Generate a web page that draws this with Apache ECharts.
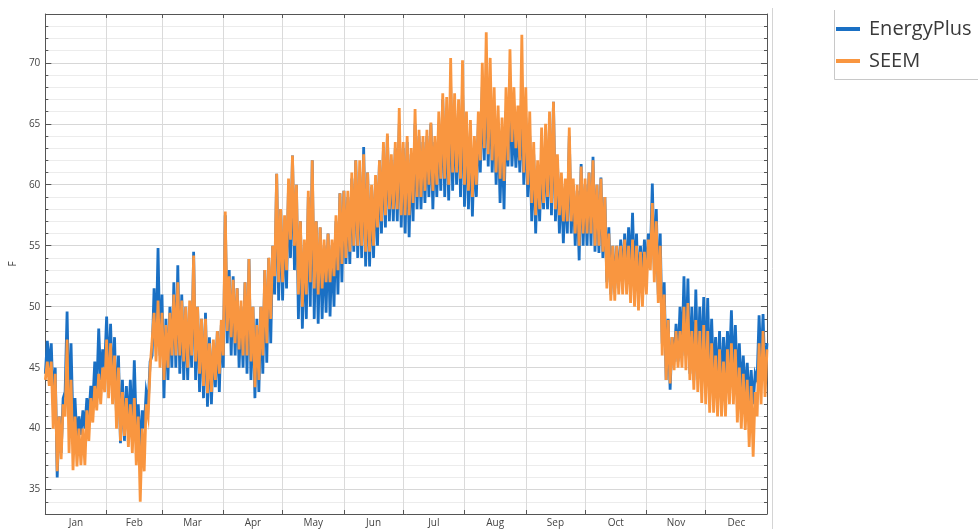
<!DOCTYPE html>
<html>
<head>
<meta charset="utf-8">
<script src="https://cdn.jsdelivr.net/npm/echarts@6/dist/echarts.min.js"></script>
<style>
html, body { margin: 0; padding: 0; background: #ffffff; }
#chart { width: 978px; height: 529px; }
</style>
</head>
<body>
<div id="chart"></div>
<script>
// Calendar used for the x axis
const monthNames = ['Jan', 'Feb', 'Mar', 'Apr', 'May', 'Jun', 'Jul', 'Aug', 'Sep', 'Oct', 'Nov', 'Dec'];
const monthDays = [31, 28, 31, 30, 31, 30, 31, 31, 30, 31, 30, 31];

// Temperature axis (F)
const yMin = 33;
const yMax = 74;
const yTickLabels = [35, 40, 45, 50, 55, 60, 65, 70];

// Daily low / high temperature, one pair every second day from Jan 1 (one line per month)
const energyPlusLow = [
  44.5, 45, 42, 36, 38, 43, 41, 40, 39, 39.5, 40, 41, 42, 43, 44, 45,
  44, 43, 41, 38.8, 39, 40, 39.5, 40, 38, 40, 42, 46, 47, 46,
  42.5, 44, 45, 45, 44.5, 44, 44, 45, 44, 43, 42.5, 41.8, 42, 43.4, 43,
  45, 47, 46, 46, 45, 45, 44.5, 44, 42.5, 43, 44.5, 45.4, 47, 51, 50.5,
  50.5, 51.5, 54, 53, 49, 48.2, 49, 50, 49, 48.6, 49, 49.5, 49.2, 50, 51, 52,
  53.5, 53.5, 54.5, 54, 54, 53.3, 53.3, 54, 55, 56, 56.5, 57, 57, 57, 56.5,
  56, 55.7, 57, 58, 58, 58.5, 59, 58, 59, 59.5, 59, 58.7, 59.5, 60, 59,
  58.2, 58, 57.4, 59, 61, 62, 61.5, 61, 60, 58.5, 58, 61.5, 61.5, 61.4, 61, 60,
  59, 57, 56, 57, 58, 58, 57.5, 57, 56, 55.2, 56, 56, 55, 53.8, 55,
  55, 55, 54.5, 54.4, 54, 52, 51, 51.5, 52, 52, 52.5, 53, 52, 51, 52,
  52.5, 54, 53, 51, 47, 44, 43.2, 45.5, 45.5, 46, 46, 44.5, 44, 44.5, 45,
  44, 44, 44, 43.5, 43, 44, 45, 44, 43.5, 43, 42.5, 42, 42, 44, 45, 44
];
const energyPlusHigh = [
  47.2, 47, 45, 41, 42.5, 49.6, 47, 42.5, 41, 41.5, 42.5, 43.5, 45.5, 48.2, 46.5, 49.2,
  48.6, 47.5, 46, 44, 43.5, 44, 45.6, 42, 41.5, 43, 45.5, 51.5, 54.8, 51,
  49, 50, 52, 53.4, 51, 50, 50, 54.5, 50, 49, 49.5, 47.5, 47, 48, 48.5,
  57.5, 53, 52.5, 51.5, 50, 52, 53.9, 50, 49, 50, 53, 54, 55, 60.9, 58,
  57, 60, 62.4, 60, 57, 55, 59, 62, 57, 56.5, 55, 56, 55, 57, 59.3, 59.5,
  59, 60.5, 62, 61, 63.1, 61, 59.8, 60.5, 62, 63, 64, 62, 63, 65, 63,
  63.5, 62.5, 65, 64, 63.5, 64, 65, 63.5, 65, 67, 66, 68, 66, 66, 68,
  65, 64, 63, 65, 68, 69, 68, 66, 65, 64, 66, 68, 65, 65, 67, 65.5,
  64, 62.5, 61.5, 62, 63, 65, 66.8, 62, 60.5, 60, 64, 60, 59.5, 61.7, 60,
  61, 62.3, 60, 60.6, 59, 56.5, 55, 55, 55.5, 56, 56.5, 57.7, 56, 55, 55.5,
  56, 60.1, 58, 56, 52, 49, 47.5, 48.6, 50, 52.5, 52.3, 50, 51.4, 50, 50.8,
  50.7, 49, 47.5, 48, 47.5, 48, 49.7, 48.5, 47, 46, 45.4, 44.8, 44.5, 49.3, 49.4, 47
];
const seemLow = [
  44, 43.5, 40, 36.5, 37.5, 41, 38, 36.6, 36.9, 37, 37, 39, 40.5, 41.5, 42, 43,
  42.5, 42, 40, 39, 39.4, 38.5, 38, 37, 34, 36.5, 41, 45, 45.5, 45,
  44, 45, 46, 46, 46, 45.5, 45, 46, 45.5, 44.5, 43.5, 42.9, 43, 44, 44.5,
  46, 48, 47.5, 47, 46.5, 46, 46, 45.5, 43.4, 44, 46, 47, 49, 52.5, 52,
  52, 53, 55.5, 55, 51, 50, 51, 52, 51.5, 51, 51.5, 52, 52, 52.5, 53, 53.5,
  54, 54.5, 55, 55, 55, 54.5, 54.5, 55, 56.5, 57, 57.5, 58, 58, 58, 57.5,
  57.5, 57.5, 58.5, 59, 59, 59.5, 60, 59.5, 60, 60.5, 60.5, 60, 61, 61, 60.5,
  60, 59.5, 59, 60, 62, 63, 62.5, 62, 61, 60.5, 60.3, 62, 63.5, 63, 62, 61,
  60, 58.5, 57.5, 58, 58.5, 59, 58.5, 58, 57.5, 57, 57, 57, 56, 55, 56,
  56, 56, 55, 55, 54.5, 51.5, 50.5, 50.5, 51, 51, 51, 50.3, 50, 49.7, 50,
  51, 53, 52, 50.3, 46, 44, 43.7, 44.8, 45, 45, 44.8, 44, 43.2, 43, 42.1,
  42, 41.3, 41.3, 41, 41, 41, 42, 42, 40.5, 40, 39.9, 38.5, 37.7, 41, 42, 42.6
];
const seemHigh = [
  45.5, 45.5, 44.5, 41, 42, 47.3, 44, 41, 40, 40, 41.5, 42.5, 43.5, 44.5, 45, 47.3,
  47, 46, 45, 43, 42.5, 42, 42.5, 41, 40, 42, 45, 49.5, 50.5, 49.5,
  48.5, 49.5, 51, 52, 50.5, 50, 50.5, 54.2, 50, 49, 49, 47, 47.3, 48, 48.9,
  57.8, 52.5, 52.2, 51.5, 50.5, 52, 53.9, 50, 48.5, 50, 53, 54, 55, 60.9, 58,
  57.5, 60.5, 62.4, 60, 57, 55.5, 59.5, 62, 57, 56.5, 55.5, 56, 55.5, 57.5, 59.3, 59.5,
  59.5, 61, 62, 62, 62.5, 61, 60, 60.8, 62, 63.5, 64.2, 62.5, 63.5, 66.3, 63.5,
  64, 63, 66.2, 64.5, 64, 64.5, 65.1, 64, 66, 67.5, 67.2, 70.4, 67.5, 67, 70.2,
  66, 65.3, 64, 66, 70, 72.5, 70.4, 68, 66.5, 65.5, 68, 71.1, 68, 66.5, 72.3, 68,
  66, 63.5, 62, 64.7, 65, 66, 66.8, 62.5, 61, 60.5, 64.7, 60.5, 60, 61.5, 60.5,
  61, 62, 60, 60.5, 59, 56, 55, 55, 55, 55.5, 55, 55.5, 55, 54.5, 54.5,
  55.5, 58.5, 57, 55, 51, 48.9, 47.5, 48, 48, 50, 50.3, 48, 48.9, 48, 48.5,
  48, 47, 46, 46.5, 45.5, 46.5, 47, 46.5, 45, 44.5, 44, 43.5, 43, 47, 48, 46.5
];

// Each pair becomes a low then a high point, one day apart
function toTrace(lows, highs) {
  const pts = [];
  for (let k = 0; k < lows.length; k++) {
    pts.push([2 * k, lows[k]]);
    pts.push([2 * k + 1, highs[k]]);
  }
  return pts;
}

// Half-day category slots: month boundaries get ticks, month middles get names
const monthStartSlots = [];
const halfDaySlots = [];
let slot = 0;
for (let m = 0; m < 12; m++) {
  monthStartSlots.push(slot);
  const mid = slot + monthDays[m];
  const end = slot + 2 * monthDays[m];
  for (let s = slot; s < end; s++) halfDaySlots.push(s === mid ? monthNames[m] : '');
  slot = end;
}
monthStartSlots.push(slot);
halfDaySlots.push('');
const isMonthStart = (i) => monthStartSlots.indexOf(i) !== -1;

const yCats = [];
for (let v = yMin; v <= yMax; v++) yCats.push(String(v));
const isMajorY = (i, v) => yTickLabels.indexOf(Number(v)) !== -1;

const axisColor = '#555555';
const labelFont = 'Open Sans';

const chart = echarts.init(document.getElementById('chart'), null, { renderer: 'canvas' });
chart.setOption({
  animation: false,
  backgroundColor: '#ffffff',
  grid: { left: 43, right: 211, top: 14, bottom: 15, containLabel: false },
  legend: {
    data: ['EnergyPlus', 'SEEM'],
    orient: 'vertical',
    left: 836,
    top: 19,
    padding: 0,
    icon: 'rect',
    itemWidth: 24,
    itemHeight: 4,
    itemGap: 12,
    textStyle: { fontFamily: labelFont, fontSize: 20, lineHeight: 20, color: '#3a3a3a', padding: [0, 0, 0, 4] }
  },
  graphic: [
    { type: 'line', shape: { x1: 772.5, y1: 8, x2: 772.5, y2: 529 }, style: { stroke: '#d4d4d4', lineWidth: 1 }, silent: true },
    { type: 'polyline', shape: { points: [[834.5, 10], [834.5, 79.5], [978, 79.5]] }, style: { stroke: '#c8c8c8', lineWidth: 1, fill: null }, silent: true }
  ],
  xAxis: [
    { type: 'value', min: 0, max: 365, show: false },
    {
      type: 'category', position: 'bottom', data: halfDaySlots, boundaryGap: false,
      axisLine: { show: true, lineStyle: { color: axisColor, width: 1 } },
      axisTick: { show: true, inside: true, length: 4, interval: isMonthStart, lineStyle: { color: axisColor } },
      axisLabel: { show: true, interval: (i, v) => v !== '', margin: 4, fontSize: 10, fontFamily: labelFont, color: '#444444' },
      splitLine: { show: true, interval: isMonthStart, lineStyle: { color: '#dadada', width: 1 } }
    },
    {
      type: 'category', position: 'top', data: halfDaySlots, boundaryGap: false,
      axisLine: { show: true, lineStyle: { color: axisColor, width: 1 } },
      axisTick: { show: true, inside: true, length: 4, interval: isMonthStart, lineStyle: { color: axisColor } },
      axisLabel: { show: false },
      splitLine: { show: false }
    }
  ],
  yAxis: [
    {
      type: 'value', min: yMin, max: yMax, interval: 1, position: 'left',
      name: 'F', nameLocation: 'middle', nameGap: 26,
      nameTextStyle: { fontSize: 10, fontFamily: labelFont, color: '#333333' },
      axisLine: { show: true, lineStyle: { color: axisColor, width: 1 } },
      axisTick: { show: true, inside: true, length: 3, lineStyle: { color: axisColor } },
      axisLabel: {
        show: true, margin: 5, fontSize: 10, fontFamily: labelFont, color: '#444444',
        formatter: (v) => (yTickLabels.indexOf(v) !== -1 ? String(v) : '')
      },
      splitLine: { show: true, lineStyle: { color: ['#ececec', '#ececec', '#d7d7d7', '#ececec', '#ececec'], width: 1 } }
    },
    {
      type: 'category', position: 'left', data: yCats, boundaryGap: false,
      axisLine: { show: false },
      axisTick: { show: true, inside: true, length: 6, interval: isMajorY, lineStyle: { color: axisColor } },
      axisLabel: { show: false },
      splitLine: { show: false }
    },
    {
      type: 'value', min: yMin, max: yMax, interval: 1, position: 'right',
      axisLine: { show: true, lineStyle: { color: axisColor, width: 1 } },
      axisTick: { show: true, inside: true, length: 3, lineStyle: { color: axisColor } },
      axisLabel: { show: false },
      splitLine: { show: false }
    },
    {
      type: 'category', position: 'right', data: yCats, boundaryGap: false,
      axisLine: { show: false },
      axisTick: { show: true, inside: true, length: 6, interval: isMajorY, lineStyle: { color: axisColor } },
      axisLabel: { show: false },
      splitLine: { show: false }
    }
  ],
  series: [
    {
      name: 'EnergyPlus', type: 'line', xAxisIndex: 0, yAxisIndex: 0,
      data: toTrace(energyPlusLow, energyPlusHigh),
      showSymbol: false, symbol: 'none', sampling: null,
      color: '#1a70c4',
      lineStyle: { color: '#1a70c4', width: 2.8, join: 'miter' },
      z: 2
    },
    {
      name: 'SEEM', type: 'line', xAxisIndex: 0, yAxisIndex: 0,
      data: toTrace(seemLow, seemHigh),
      showSymbol: false, symbol: 'none', sampling: null,
      color: '#f99640',
      lineStyle: { color: '#f99640', width: 2.8, join: 'miter' },
      z: 3
    }
  ]
});
</script>
</body>
</html>
